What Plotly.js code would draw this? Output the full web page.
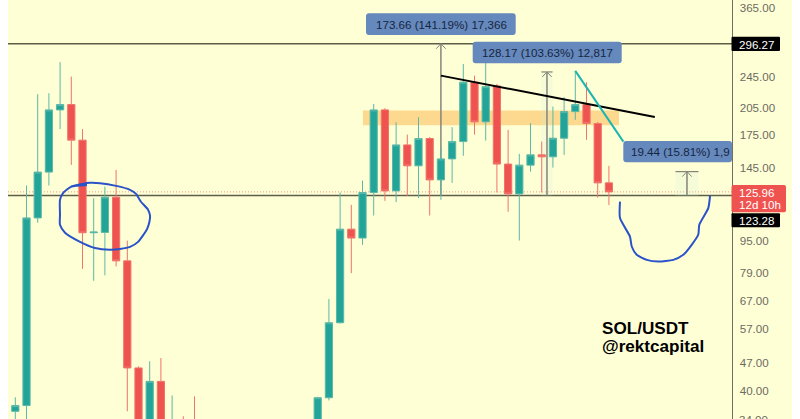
<!DOCTYPE html>
<html><head><meta charset="utf-8">
<script src="https://cdn.plot.ly/plotly-3.0.1.min.js"></script>
<style>html,body{margin:0;padding:0;background:#fff;width:800px;height:419px;overflow:hidden}
#chart{position:absolute;left:8px;top:0;width:784px;height:419px}</style>
</head><body><div id="chart"></div>
<script>
const slots  =[0,1,2,3,4,5,6,7,8,9,10,11,12,13,14,15,16,27,28,29,30,31,32,33,34,35,36,37,38,39,40,41,42,43,44,45,46,47,48,49,50,51,52,53];
const opens  =[35.5,36.7,108.4,141.2,202.2,208.5,169.8,99.5,99.7,122.2,84.6,45.6,33,42.2,29,31,29,30,38.4,59.2,101.6,96.5,125.5,202.2,126.7,165.2,146.4,171.4,135,152.4,168.4,237.2,188.7,232.2,147.9,124.5,147,156,154.2,171.7,200.2,208.5,186.9,132.7];
const highs  =[38.5,130.6,221.4,222.6,266.4,245,180.9,121.5,129.9,143,95.1,46,47.4,48.3,38.9,34.5,38.7,38.6,67.9,125.5,116.9,134.5,209.3,204.2,188.3,175.3,193.9,172.8,162.4,183,263.6,246.4,285.7,234.9,180.2,156.9,187.3,168.4,206.1,217.6,253.3,237.2,188.7,146.4];
const lows   =[33,33,105.4,130.6,180.9,147.2,80.8,75.4,77.8,81.9,35.5,30,31,30,28,27,25,28,37.8,58.9,78.8,92.8,109.9,119.6,118.7,123.1,121.5,109.9,120.3,132.7,155.1,175.3,169.4,125.5,112.3,95.1,141.6,125.5,144.9,156,190.9,170.1,121.9,116.7];
const closes =[36.7,108.4,141.2,202.2,208.5,169.8,99.5,99.9,122.2,84.6,45.6,32,42.2,31,32,29,27,38.4,59.2,101.6,96.5,125.5,202.2,126.7,165.2,146.4,171.4,135,152.4,168.4,237.2,188.7,231.2,147.9,124.5,147,156,154.2,171.7,200.2,208.5,186.9,132.7,125.96];

const tickValues=[365,245,205,175,145,95,79,67,57,47,40];
const tickLabels=["365.00","245.00","205.00","175.00","145.00","95.00","79.00","67.00","57.00","47.00","40.00"];

const upperLevel=296.27, lowerLevel=123.28, lastPrice=125.96;
const zoneLow=185.1, zoneHigh=201.4, zoneStart=31.04, zoneEnd=53.9;
const trendX=[38,57.1], trendY=[246.4,194.1];
const steepX=[50,54.29], steepY=[253.3,168.4];
const measureX=[38,47.47,59.97], measureTop=[296.27,251.7,141.6], measureTip=[287.8,244.6,137.6], measureHalf=[0,0.5,1.03];
const circleX=[4.97,5.96,6.67,7.56,9.0,10.24,10.78,11.22,11.85,12.03,11.98,11.76,10.96,10.24,9.35,8.46,7.12,5.78,4.44,3.99,3.99,3.99,4.26,4.97,6.4];
const circleY=[130,131.9,132.7,132.4,130.4,127.5,124.5,119,113.7,109.9,106.2,101.6,94.4,91.7,90.6,90.2,91.1,94.4,99.5,104.2,110.5,120.3,125.1,129.7,131.1];
const curveX=[53.99,53.99,54.88,55.04,55.48,56.38,57.41,58.75,59.64,60.39,60.98,61.07,61.87,62.03];
const curveY=[119.1,108.3,97.3,91.9,87.6,85.1,84.3,85.1,87.6,92.8,98.5,104.2,114.7,123.3];

const W=724,H=419,X0=8;
const px=x=>(x-X0)/W, py=y=>1-y/H;
function rounded(x0,y0,x1,y1,r,fill){
  const a=px(x0),b=px(x1),c=py(y0),d=py(y1),rx=r/W,ry=r/H;
  return {type:'path',xref:'paper',yref:'paper',layer:'above',fillcolor:fill,line:{width:0},
    path:`M${a+rx},${c} L${b-rx},${c} Q${b},${c} ${b},${c-ry} L${b},${d+ry} Q${b},${d} ${b-rx},${d} L${a+rx},${d} Q${a},${d} ${a},${d+ry} L${a},${c-ry} Q${a},${c} ${a+rx},${c} Z`};
}
function label(x,y,text,size,color,anchor,bold){
  return {xref:'paper',yref:'paper',x:px(x),y:py(y),text:bold?`<b>${text}</b>`:text,showarrow:false,xanchor:anchor||'left',yanchor:'middle',
    font:{family:'Liberation Sans, Arial, sans-serif',size:size,color:color}};
}
const gray='#85857a', lineC='#5e5e48';
const shapes=[
 {type:'rect',xref:'x',yref:'y',x0:zoneStart,x1:zoneEnd,y0:zoneLow,y1:zoneHigh,layer:'below',fillcolor:'#fdd98f',line:{width:0}},
 {type:'line',xref:'paper',yref:'y',x0:0,x1:1,y0:upperLevel,y1:upperLevel,layer:'below',line:{color:lineC,width:1.5}},
 {type:'line',xref:'paper',yref:'y',x0:0,x1:1,y0:lowerLevel,y1:lowerLevel,layer:'below',line:{color:lineC,width:1.5}},
 {type:'line',xref:'paper',yref:'y',x0:0,x1:1,y0:lastPrice,y1:lastPrice,layer:'below',line:{color:'#f08078',width:0.8,dash:'1px,2px'}},
];
measureX.forEach((x,i)=>{
  if(measureHalf[i]>0){
    shapes.push({type:'rect',xref:'x',yref:'y',x0:x-measureHalf[i],x1:x+measureHalf[i],y0:lowerLevel,y1:measureTop[i],layer:'below',fillcolor:'rgba(205,235,215,0.22)',line:{width:0}});
    shapes.push({type:'line',xref:'x',yref:'y',x0:x-measureHalf[i],x1:x+measureHalf[i],y0:measureTop[i],y1:measureTop[i],layer:'below',line:{color:gray,width:1.2}});
  }
  shapes.push({type:'line',xref:'x',yref:'y',x0:x,x1:x,y0:lowerLevel,y1:measureTop[i],layer:'below',line:{color:gray,width:1.5}});
  shapes.push({type:'path',xref:'x',yref:'y',layer:'below',line:{color:gray,width:1},path:`M${x-0.42},${measureTip[i]} L${x},${measureTop[i]} L${x+0.42},${measureTip[i]}`});
});
shapes.push(rounded(366,13.3,515.7,35,3,'#6588bd'));
shapes.push(rounded(472.7,41.7,621.7,63.3,3,'#6588bd'));
shapes.push(rounded(623.3,141,732,162.3,3,'#6588bd'));
shapes.push(rounded(731.5,36.7,780,51,1,'#000000'));
shapes.push(rounded(731.5,185,786,212.3,2,'#ef5350'));
shapes.push(rounded(731.5,213.3,780,227.3,1,'#000000'));

const annotations=[
 label(441,24.3,"173.66 (141.19%) 17,366",11.6,'#16263f','center'),
 label(547.2,52.7,"128.17 (103.63%) 12,817",11.6,'#16263f','center'),
 label(629,151.8,"19.44 (15.81%) 1,9",11.6,'#16263f','left'),
 label(737,44.2,"296.27",11.6,'#ffffff','left'),
 label(737,192.5,"125.96",11.6,'#ffffff','left'),
 label(737,204.8,"12d 10h",11.6,'#ffffff','left'),
 label(737,220.3,"123.28",11.6,'#ffffff','left'),
 label(737,419,"34.00",11.6,'#6b6b62','left'),
 label(599.5,328,"SOL/USDT",17.1,'#000000','left',true),
 label(599.5,346.5,"@rektcapital",17.1,'#000000','left',true),
];

const traces=[
 {type:'candlestick',x:slots,open:opens,high:highs,low:lows,close:closes,whiskerwidth:0,hoverinfo:'skip',
  increasing:{line:{color:'#5cb8a8',width:1},fillcolor:'#22a598'},
  decreasing:{line:{color:'#f0736c',width:1},fillcolor:'#ef5350'}},
 {type:'scatter',mode:'lines',x:trendX,y:trendY,line:{color:'#000000',width:2},hoverinfo:'skip'},
 {type:'scatter',mode:'lines',x:steepX,y:steepY,line:{color:'#1cb5b2',width:2},hoverinfo:'skip'},
 {type:'scatter',mode:'lines',x:circleX,y:circleY,line:{color:'#2a52c9',width:2,shape:'spline',smoothing:0.6},hoverinfo:'skip'},
 {type:'scatter',mode:'lines',x:curveX,y:curveY,line:{color:'#2a52c9',width:2,shape:'spline',smoothing:0.6},hoverinfo:'skip'},
];
const layout={
 width:784,height:419,margin:{l:0,r:60,t:0,b:0},showlegend:false,
 paper_bgcolor:'#ffffd6',plot_bgcolor:'#ffffd6',
 xaxis:{visible:false,range:[-0.652,63.99],rangeslider:{visible:false},fixedrange:true},
 yaxis:{type:'log',side:'right',range:[1.531,2.5812],showgrid:false,zeroline:false,showline:true,linecolor:'#6f6f63',linewidth:1.4,
   tickmode:'array',tickvals:tickValues,ticktext:tickLabels,ticks:'outside',ticklen:4,tickcolor:'rgba(0,0,0,0)',
   tickfont:{family:'Liberation Sans, Arial, sans-serif',size:11.6,color:'#6b6b62'},fixedrange:true},
 boxgap:0.08,shapes:shapes,annotations:annotations
};
Plotly.newPlot('chart',traces,layout,{displayModeBar:false,staticPlot:true});
</script></body></html>
